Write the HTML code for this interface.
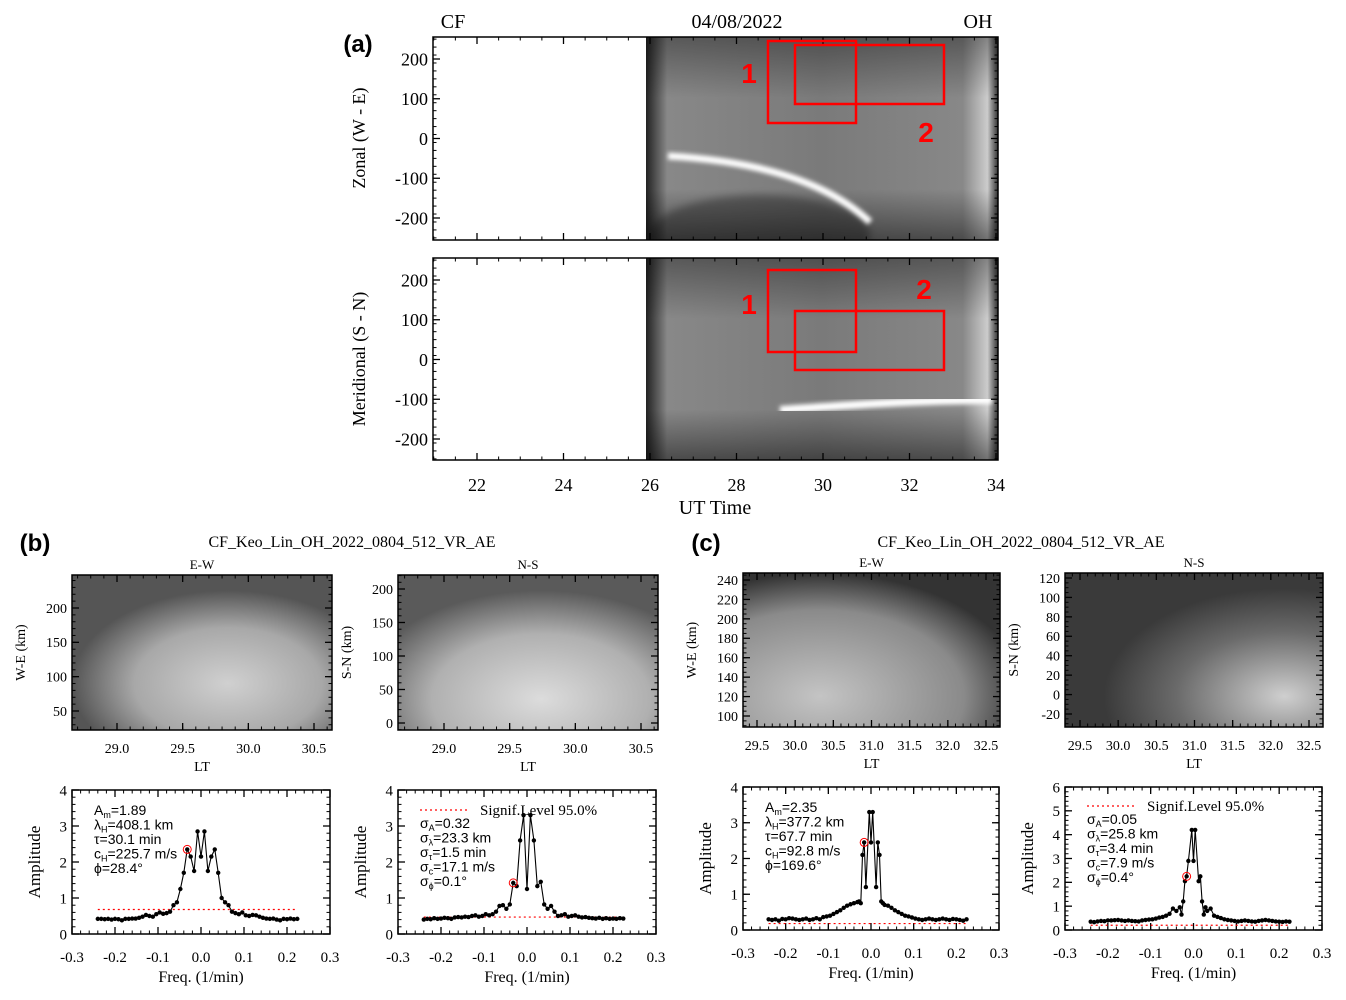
<!DOCTYPE html>
<html><head><meta charset="utf-8"><style>
html,body{margin:0;padding:0;background:#fff;}
svg{display:block;}
.s{font-family:"Liberation Serif",serif;}
.a{font-family:"Liberation Sans",sans-serif;}
</style></head><body>
<svg id="fig" width="1346" height="1000" viewBox="0 0 1346 1000" xmlns="http://www.w3.org/2000/svg">
<defs>
<linearGradient id="gA" x1="0" x2="1" y1="0" y2="0">
<stop offset="0" stop-color="#222"/><stop offset="0.03" stop-color="#555"/><stop offset="0.06" stop-color="#888"/><stop offset="0.5" stop-color="#7a7a7a"/><stop offset="0.9" stop-color="#888"/><stop offset="0.97" stop-color="#ccc"/><stop offset="1" stop-color="#333"/>
</linearGradient>
<linearGradient id="gV" x1="0" x2="0" y1="0" y2="1">
<stop offset="0" stop-color="#000" stop-opacity="0.35"/><stop offset="0.3" stop-color="#000" stop-opacity="0"/><stop offset="0.75" stop-color="#000" stop-opacity="0"/><stop offset="1" stop-color="#000" stop-opacity="0.45"/>
</linearGradient>
<radialGradient id="gB1" cx="0.6" cy="0.7" r="0.6"><stop offset="0" stop-color="#d0d0d0"/><stop offset="0.6" stop-color="#a8a8a8"/><stop offset="1" stop-color="#555"/></radialGradient>
<radialGradient id="gB2" cx="0.55" cy="0.8" r="0.7"><stop offset="0" stop-color="#dcdcdc"/><stop offset="0.6" stop-color="#b0b0b0"/><stop offset="1" stop-color="#5a5a5a"/></radialGradient>
<radialGradient id="gC1" cx="0.3" cy="0.8" r="0.8"><stop offset="0" stop-color="#c4c4c4"/><stop offset="0.7" stop-color="#8a8a8a"/><stop offset="1" stop-color="#333"/></radialGradient>
<radialGradient id="gC2" cx="0.85" cy="0.8" r="0.7"><stop offset="0" stop-color="#cfcfcf"/><stop offset="0.6" stop-color="#6a6a6a"/><stop offset="1" stop-color="#3a3a3a"/></radialGradient>
<filter id="blur4"><feGaussianBlur stdDeviation="4"/></filter>
<filter id="blur2"><feGaussianBlur stdDeviation="2"/></filter>
<clipPath id="clipTop"><rect x="433" y="37" width="565" height="203"/></clipPath>
<clipPath id="clipBot"><rect x="433" y="258" width="565" height="202"/></clipPath>
</defs>
</svg>
<script>
// ---- Data ----
const utTicks=[22,24,26,28,30,32,34];
const specFreqTicks=[-0.3,-0.2,-0.1,0.0,0.1,0.2,0.3];
const bLfreq=[-0.24,-0.232,-0.224,-0.216,-0.208,-0.2,-0.192,-0.184,-0.176,-0.168,-0.16,-0.152,-0.144,-0.136,-0.128,-0.12,-0.112,-0.104,-0.096,-0.088,-0.08,-0.072,-0.064,-0.056,-0.048,-0.04,-0.032,-0.024,-0.016,-0.008,0,0.008,0.016,0.024,0.032,0.04,0.048,0.056,0.064,0.072,0.08,0.088,0.096,0.104,0.112,0.12,0.128,0.136,0.144,0.152,0.16,0.168,0.176,0.184,0.192,0.2,0.208,0.216,0.224];
const bLamp=[0.42,0.42,0.41,0.42,0.40,0.42,0.41,0.38,0.42,0.42,0.43,0.43,0.45,0.48,0.53,0.50,0.48,0.55,0.60,0.56,0.58,0.62,0.80,0.88,1.25,1.70,2.35,2.15,1.75,2.85,2.15,2.85,1.75,2.15,2.35,1.70,1.00,0.88,0.80,0.62,0.58,0.55,0.60,0.52,0.50,0.53,0.52,0.48,0.45,0.43,0.42,0.43,0.40,0.38,0.42,0.41,0.43,0.41,0.42];
const bRamp=[0.40,0.42,0.41,0.44,0.42,0.43,0.45,0.44,0.42,0.46,0.47,0.46,0.48,0.47,0.50,0.52,0.48,0.50,0.55,0.52,0.55,0.62,0.78,0.80,0.70,0.82,1.42,1.33,2.60,3.30,1.25,3.30,2.60,1.33,1.45,0.82,0.70,0.78,0.62,0.50,0.52,0.55,0.48,0.50,0.52,0.48,0.46,0.47,0.45,0.44,0.43,0.45,0.42,0.44,0.42,0.43,0.42,0.44,0.43];
const cLfreq=[-0.24,-0.232,-0.224,-0.216,-0.208,-0.2,-0.192,-0.184,-0.176,-0.168,-0.16,-0.152,-0.144,-0.136,-0.128,-0.12,-0.112,-0.104,-0.096,-0.088,-0.08,-0.072,-0.064,-0.056,-0.048,-0.04,-0.032,-0.028,-0.024,-0.02,-0.016,-0.012,-0.004,0,0.004,0.012,0.016,0.02,0.024,0.028,0.032,0.04,0.048,0.056,0.064,0.072,0.08,0.088,0.096,0.104,0.112,0.12,0.128,0.136,0.144,0.152,0.16,0.168,0.176,0.184,0.192,0.2,0.208,0.216,0.224];
const cLamp=[0.30,0.28,0.30,0.26,0.31,0.30,0.33,0.32,0.30,0.28,0.30,0.32,0.28,0.30,0.33,0.30,0.36,0.38,0.40,0.45,0.50,0.55,0.62,0.68,0.72,0.75,0.78,0.80,0.75,2.10,2.45,1.20,3.30,2.45,3.30,1.20,2.45,2.10,0.80,0.75,0.70,0.68,0.62,0.55,0.50,0.45,0.40,0.38,0.35,0.32,0.30,0.28,0.30,0.32,0.30,0.28,0.30,0.32,0.30,0.28,0.31,0.30,0.28,0.26,0.30];
const cRamp=[0.35,0.33,0.36,0.38,0.37,0.40,0.40,0.41,0.42,0.40,0.38,0.40,0.38,0.37,0.36,0.40,0.42,0.44,0.45,0.48,0.52,0.55,0.60,0.68,0.90,0.80,0.95,0.65,1.20,2.05,2.25,2.90,4.20,2.90,4.20,2.05,2.25,1.20,0.65,0.95,0.80,0.90,0.60,0.55,0.50,0.45,0.42,0.40,0.38,0.36,0.38,0.40,0.38,0.36,0.35,0.38,0.40,0.42,0.40,0.38,0.36,0.35,0.34,0.36,0.35];
const sigLevels=[0.68,0.47,0.18,0.2];
const circled=[[-0.032,2.35],[-0.032,1.42],[-0.016,2.45],[-0.016,2.25]];

const svg=document.getElementById('fig');
const NS='http://www.w3.org/2000/svg';
function el(tag,attrs,parent){const e=document.createElementNS(NS,tag);for(const k in attrs)e.setAttribute(k,attrs[k]);(parent||svg).appendChild(e);return e;}
function txt(s,x,y,size,cls,anchor,name,parent){const t=el('text',{x:x,y:y,'font-size':size,class:cls,'text-anchor':anchor||'middle'},parent);t.textContent=s;


return t;}
function lin(d0,d1,p0,p1){return v=>p0+(v-d0)*(p1-p0)/(d1-d0);}

function frame(x0,y0,x1,y1,xs,xTicks,xMinor,ys,yTicks,yMinor,fmtX,fmtY,fs,name,xoff){
  const g=el('g',{});
  
  
  el('rect',{x:x0,y:y0,width:x1-x0,height:y1-y0,fill:'none',stroke:'#000','stroke-width':1.5},g);
  const tl=7,ml=3.5;
  xMinor.forEach(v=>{const x=xs(v);el('line',{x1:x,x2:x,y1:y1,y2:y1-ml,stroke:'#000'},g);el('line',{x1:x,x2:x,y1:y0,y2:y0+ml,stroke:'#000'},g);});
  yMinor.forEach(v=>{const y=ys(v);el('line',{x1:x0,x2:x0+ml,y1:y,y2:y,stroke:'#000'},g);el('line',{x1:x1,x2:x1-ml,y1:y,y2:y,stroke:'#000'},g);});
  xTicks.forEach(v=>{const x=xs(v);el('line',{x1:x,x2:x,y1:y1,y2:y1-tl,stroke:'#000','stroke-width':1.3},g);el('line',{x1:x,x2:x,y1:y0,y2:y0+tl,stroke:'#000','stroke-width':1.3},g);
    if(fmtX)txt(fmtX(v),x,y1+fs+xoff,fs,'s','middle','x-tick-label',g);});
  yTicks.forEach(v=>{const y=ys(v);el('line',{x1:x0,x2:x0+tl,y1:y,y2:y,stroke:'#000','stroke-width':1.3},g);el('line',{x1:x1,x2:x1-tl,y1:y,y2:y,stroke:'#000','stroke-width':1.3},g);
    if(fmtY)txt(fmtY(v),x0-5,y+fs*0.35,fs,'s','end','y-tick-label',g);});
  return g;
}
function range(a,b,s){const r=[];for(let v=a;v<=b+1e-9;v+=s)r.push(+v.toFixed(4));return r;}

// ---- Panel (a) ----
const ax=lin(22,34,477,996);
txt('(a)',358,52,24,'a','middle','panel-a-label').setAttribute('font-weight','bold');
txt('CF',453,28,20,'s','middle','site-label');
txt('04/08/2022',737,28,20,'s','middle','date-label');
txt('OH',978,28,20,'s','middle','emission-label');
function keoA(y0,y1,name,clip,streak){
  const g=el('g',{'clip-path':'url(#'+clip+')'});
  const xs=ax(26)-4;
  el('rect',{x:xs,y:y0,width:998-xs,height:y1-y0,fill:'url(#gA)'},g);
  el('rect',{x:xs,y:y0,width:998-xs,height:y1-y0,fill:'url(#gV)'},g);
  streak(g);
  return g;
}
const ayTop=lin(200,-200,59,218), ayBot=lin(200,-200,280,439);
keoA(37,240,'zonal-keogram','clipTop',g=>{
  el('ellipse',{cx:760,cy:235,rx:110,ry:40,fill:'#000',opacity:0.3,filter:'url(#blur4)'},g);
  el('path',{d:'M 668 156 C 740 160 820 175 870 222',fill:'none',stroke:'#fff','stroke-width':7,filter:'url(#blur2)'},g);
});
keoA(258,460,'meridional-keogram','clipBot',g=>{
  el('path',{d:'M 780 410 C 850 405 920 400 992 400',fill:'none',stroke:'#fff','stroke-width':8,filter:'url(#blur2)'},g);
});
const minorHr=range(21,34,0.5), yMinA=range(-250,250,20);
frame(433,37,998,240,ax,utTicks,minorHr,ayTop,[200,100,0,-100,-200],yMinA.filter(v=>ayTop(v)>37&&ayTop(v)<240),null,v=>v,18,'zonal-axes',13);
frame(433,258,998,460,ax,utTicks,minorHr,ayBot,[200,100,0,-100,-200],yMinA.filter(v=>ayBot(v)>258&&ayBot(v)<460),v=>v,v=>v,18,'meridional-axes',13);
let t=txt('Zonal (W - E)',365,138,18,'s','middle','zonal-y-title');t.setAttribute('transform','rotate(-90 365 138)');
t=txt('Meridional (S - N)',365,359,18,'s','middle','meridional-y-title');t.setAttribute('transform','rotate(-90 365 359)');
txt('UT Time',715,514,20,'s','middle','x-axis-title');
function box(x0,y0,x1,y1,name){const r=el('rect',{x:x0,y:y0,width:x1-x0,height:y1-y0,fill:'none',stroke:'#f00','stroke-width':2.5});}
box(768,41,856,123,'zonal-box-1');box(795,45,944,104,'zonal-box-2');
box(768,270,856,352,'meridional-box-1');box(795,311,944,370,'meridional-box-2');
[['1',749,83],['2',926,142],['1',749,314],['2',924,299]].forEach(a=>{const q=txt(a[0],a[1],a[2],28,'a','middle','box-number');q.setAttribute('fill','#f00');q.setAttribute('font-weight','bold');});

// ---- keograms b/c ----
txt('(b)',35,551,24,'a','middle','panel-b-label').setAttribute('font-weight','bold');
txt('(c)',706,551,24,'a','middle','panel-c-label').setAttribute('font-weight','bold');
txt('CF_Keo_Lin_OH_2022_0804_512_VR_AE',352,547,16,'s','middle','panel-b-title');
txt('CF_Keo_Lin_OH_2022_0804_512_VR_AE',1021,547,16,'s','middle','panel-c-title');
function smallKeo(x0,y0,x1,y1,fill,xd,yd,xT,yT,xMin,yMin,label,ylab,name){
  const r=el('rect',{x:x0,y:y0,width:x1-x0,height:y1-y0,fill:fill});
  const xs=lin(xd[0],xd[1],xd[2],xd[3]),ys=lin(yd[0],yd[1],yd[2],yd[3]);
  frame(x0,y0,x1,y1,xs,xT,xMin.filter(v=>xs(v)>x0&&xs(v)<x1),ys,yT,yMin.filter(v=>ys(v)>y0&&ys(v)<y1),v=>v.toFixed(1),v=>v,14,name+'-axes',9);
  txt(label,(x0+x1)/2,y0-6,13,'s','middle',name+'-title');
  txt('LT',(x0+x1)/2,y1+41,14,'s','middle',name+'-x-title');
  const q=txt(ylab,x0-47,(y0+y1)/2,14,'s','middle',name+'-y-title');q.setAttribute('transform',`rotate(-90 ${x0-47} ${(y0+y1)/2})`);
}
smallKeo(72,575,332,730,'url(#gB1)',[29,30.5,117,314],[200,50,608,711],[29,29.5,30,30.5],[200,150,100,50],range(28.6,30.8,0.1),range(0,250,10),'E-W','W-E (km)','b-ew-keogram');
smallKeo(398,575,658,730,'url(#gB2)',[29,30.5,444,641],[200,0,589,723],[29,29.5,30,30.5],[200,150,100,50,0],range(28.6,30.8,0.1),range(-20,250,10),'N-S','S-N (km)','b-ns-keogram');
smallKeo(743,573,1000,727,'url(#gC1)',[29.5,32.5,757,986],[240,100,580,716],[29.5,30,30.5,31,31.5,32,32.5],[240,220,200,180,160,140,120,100],range(29.3,32.7,0.1),range(90,250,5),'E-W','W-E (km)','c-ew-keogram');
smallKeo(1065,573,1323,727,'url(#gC2)',[29.5,32.5,1080,1309],[120,-20,578,714],[29.5,30,30.5,31,31.5,32,32.5],[120,100,80,60,40,20,0,-20],range(29.3,32.7,0.1),range(-30,130,5),'N-S','S-N (km)','c-ns-keogram');

// ---- Spectra ----
function spectrum(x0,y0,x1,y1,ymax,freq,amp,sig,circ,lines,legendY,name){
  const xs=lin(-0.3,0.3,x0,x1),ys=lin(0,ymax,y1,y0);
  const yT=range(0,ymax,1);
  frame(x0,y0,x1,y1,xs,specFreqTicks,range(-0.3,0.3,0.02),ys,yT,range(0,ymax,0.2),v=>v.toFixed(1),v=>v,15,name+'-axes',13);
  const sl=el('line',{x1:xs(-0.24),x2:xs(0.225),y1:ys(sig),y2:ys(sig),stroke:'#f00','stroke-width':1.2,'stroke-dasharray':'2,3'});
  
  const pts=freq.map((f,i)=>xs(f).toFixed(1)+','+ys(amp[i]).toFixed(1)).join(' ');
  const pl=el('polyline',{points:pts,fill:'none',stroke:'#000','stroke-width':1.1});
  
  freq.forEach((f,i)=>{const c=el('circle',{cx:xs(f),cy:ys(amp[i]),r:2.2,fill:'#000'});
    
    });
  const cc=el('circle',{cx:xs(circ[0]),cy:ys(circ[1]),r:4,fill:'none',stroke:'#f00','stroke-width':1});
  
  if(legendY){el('line',{x1:x0+22,x2:x0+72,y1:legendY,y2:legendY,stroke:'#f00','stroke-width':1.2,'stroke-dasharray':'2,3'});
    txt('Signif.Level 95.0%',x0+82,legendY+5,15,'s','start',name+'-legend');}
  const ly=legendY?legendY+18:y0+25;
  lines.forEach((s,i)=>{const q=el('text',{x:x0+22,y:ly+i*14.5,'font-size':14,class:'a'});q.innerHTML=s;
    });
  txt('Freq. (1/min)',(x0+x1)/2,y1+48,16,'s','middle',name+'-x-title');
  const q=txt('Amplitude',x0-32,(y0+y1)/2,17,'s','middle',name+'-y-title');q.setAttribute('transform',`rotate(-90 ${x0-32} ${(y0+y1)/2})`);
}
const sub=s=>`<tspan font-size="9" dy="3">${s}</tspan><tspan dy="-3">`;
const end='</tspan>';
spectrum(72,790,330,934,4,bLfreq,bLamp,sigLevels[0],circled[0],
 ['A'+sub('m')+'=1.89'+end,'λ'+sub('H')+'=408.1 km'+end,'τ=30.1 min','c'+sub('H')+'=225.7 m/s'+end,'ϕ=28.4°'],0,'b-ew-spectrum');
spectrum(398,790,656,934,4,bLfreq,bRamp,sigLevels[1],circled[1],
 ['σ'+sub('A')+'=0.32'+end,'σ'+sub('λ')+'=23.3 km'+end,'σ'+sub('τ')+'=1.5 min'+end,'σ'+sub('c')+'=17.1 m/s'+end,'σ'+sub('ϕ')+'=0.1°'+end],810,'b-ns-spectrum');
spectrum(743,787,999,930,4,cLfreq,cLamp,sigLevels[2],circled[2],
 ['A'+sub('m')+'=2.35'+end,'λ'+sub('H')+'=377.2 km'+end,'τ=67.7 min','c'+sub('H')+'=92.8 m/s'+end,'ϕ=169.6°'],0,'c-ew-spectrum');
spectrum(1065,787,1322,930,6,cLfreq,cRamp,sigLevels[3],circled[3],
 ['σ'+sub('A')+'=0.05'+end,'σ'+sub('λ')+'=25.8 km'+end,'σ'+sub('τ')+'=3.4 min'+end,'σ'+sub('c')+'=7.9 m/s'+end,'σ'+sub('ϕ')+'=0.4°'+end],806,'c-ns-spectrum');
</script>
</body></html>
